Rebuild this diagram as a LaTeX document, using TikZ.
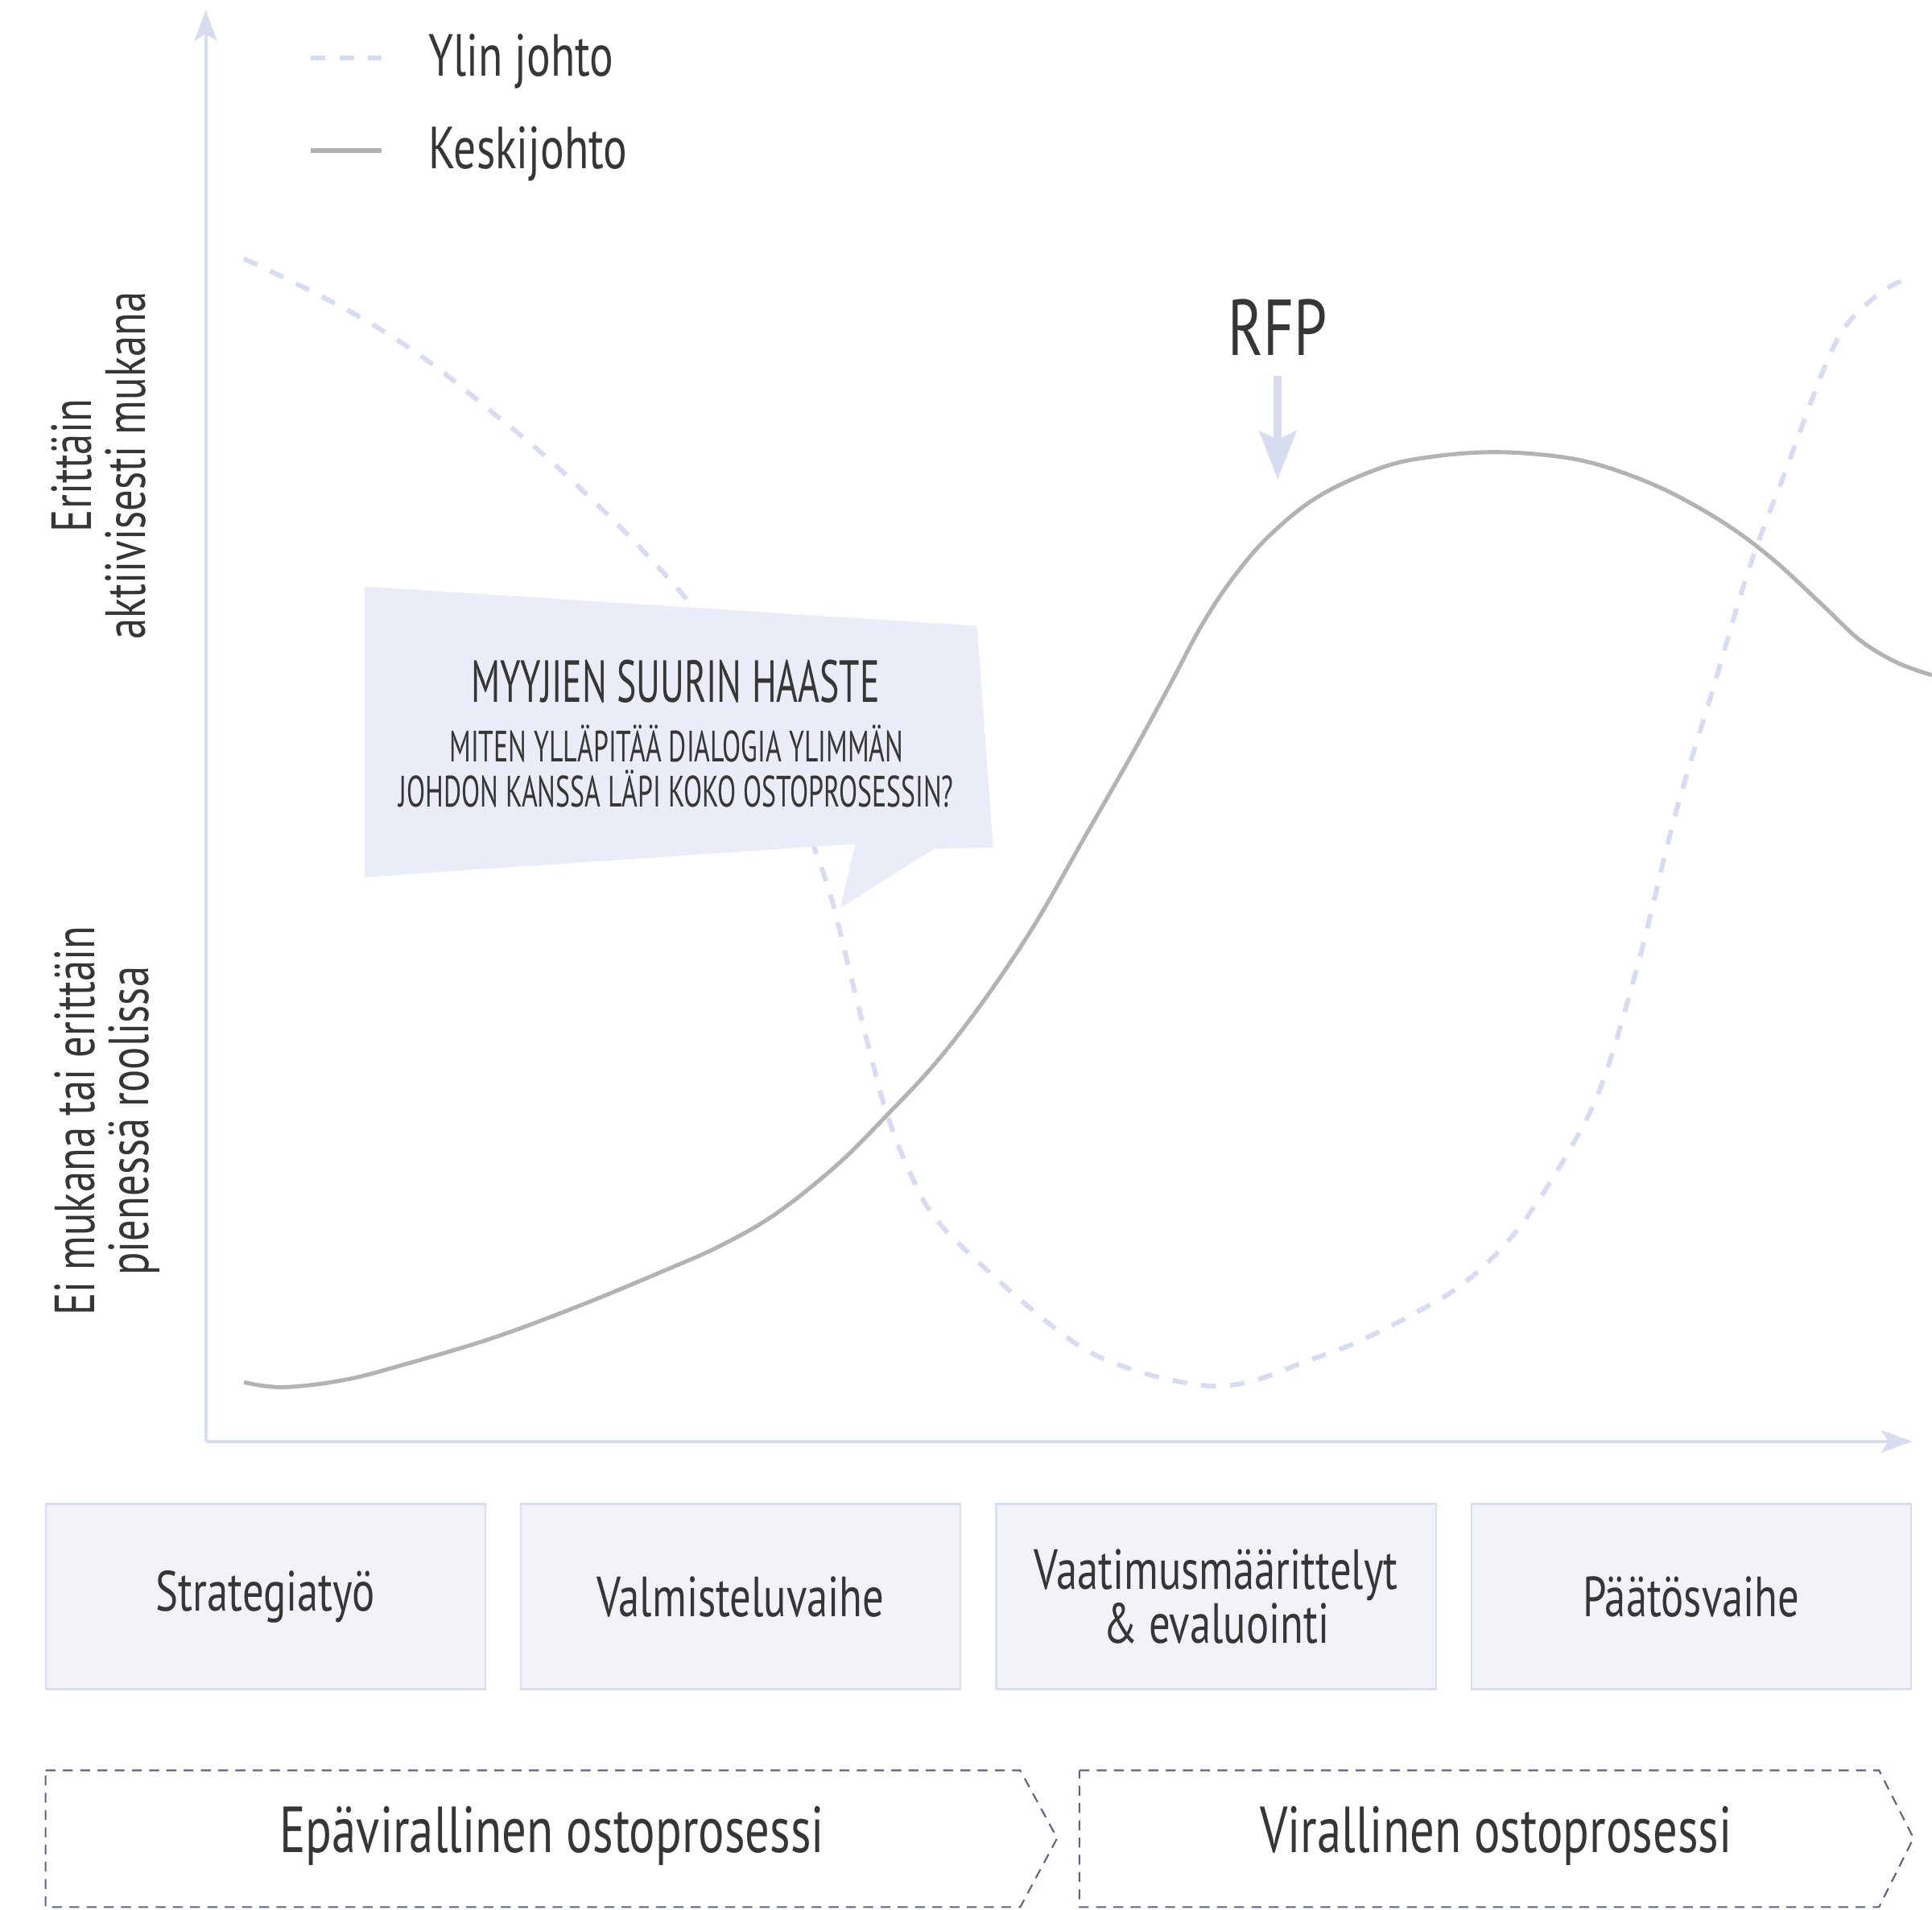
\documentclass[tikz,border=0pt]{standalone}
\usepackage{fontspec}
\setmainfont{PT Sans}[FakeStretch=0.75]
\newfontfamily\capsfont{PT Sans}[FakeStretch=0.62]
\usetikzlibrary{arrows.meta}
\definecolor{axisblue}{HTML}{D8DCF0}
\definecolor{curvegray}{HTML}{B3B3B3}
\definecolor{bubblefill}{HTML}{EAEDF7}
\definecolor{boxfill}{HTML}{F2F3F9}
\definecolor{boxline}{HTML}{D9DDF1}
\definecolor{stageline}{HTML}{5A6382}
\definecolor{inkgray}{HTML}{363636}
\tikzset{
  axis/.style={axisblue, line width=1.2pt, -{Stealth[length=11pt, width=8pt, inset=2.5pt]}},
  ylin/.style={axisblue, line width=1.7pt, dash pattern=on 5.2pt off 5pt},
  keski/.style={curvegray, line width=1.45pt},
  legendtext/.style={anchor=west, text=inkgray, font=\fontsize{21}{21}\selectfont},
  sidetext/.style={rotate=90, align=center, text=inkgray, font=\fontsize{20}{19}\selectfont},
  phasebox/.style={draw=boxline, fill=boxfill, line width=0.7pt, minimum width=54.6mm, minimum height=23mm, align=center, text=inkgray, font=\fontsize{20}{19}\selectfont},
  stagearrow/.style={stageline, line width=0.6pt, dash pattern=on 3.5pt off 2.6pt},
  stagetext/.style={text=inkgray, font=\fontsize{23}{23}\selectfont},
  rfparrow/.style={axisblue, line width=2.8pt, -{Stealth[length=17pt, width=13pt, inset=3pt]}},
}
\begin{document}
\begin{tikzpicture}[x=0.15306mm, y=-0.15306mm]
\useasboundingbox (0,0) rectangle (1568,1550);

% axes
\coordinate (origin) at (167,1170);
\coordinate (ytop) at (167,8);
\coordinate (xend) at (1552,1170);
\draw[axis] (origin) -- (ytop);
\draw[axis] (origin) -- (xend);

% legend
\coordinate (ylinA) at (252,47);
\coordinate (ylinB) at (310,47);
\coordinate (keskiA) at (252,122);
\coordinate (keskiB) at (310,122);
\draw[ylin] (ylinA) -- (ylinB);
\draw[keski, line width=1.8pt] (keskiA) -- (keskiB);
\node[legendtext] (ylinlbl) at (340,50) {Ylin johto};
\node[legendtext] (keskilbl) at (340,125) {Keskijohto};

% y labels
\node[sidetext] (high) at (80,378) {Erittäin\\aktiivisesti mukana};
\node[sidetext] (low) at (87,910) {Ei mukana tai erittäin\\pienessä roolissa};

% curves
\draw[ylin] plot[smooth, tension=0.6] coordinates {(198,210) (250,235) (300,262) (350,295) (400,335) (440,368) (480,405) (520,445) (560,490) (600,545) (635,610) (660,685) (675,730) (690,790) (705,850) (720,905) (740,955) (760,990) (800,1030) (840,1065) (880,1095) (920,1112) (960,1122) (990,1125) (1020,1120) (1060,1105) (1100,1090) (1150,1065) (1190,1040) (1230,1000) (1270,940) (1300,880) (1330,780) (1360,660) (1390,560) (1420,460) (1450,380) (1480,300) (1500,262) (1530,235) (1552,225)};
\draw[keski] plot[smooth, tension=0.6] coordinates {(198,1122) (230,1126) (280,1120) (330,1107) (400,1086) (470,1060) (540,1031) (585,1011) (630,985) (680,945) (720,905) (760,862) (800,810) (840,750) (880,680) (920,610) (950,555) (975,508) (1000,470) (1030,435) (1070,403) (1120,380) (1160,371) (1210,367) (1260,370) (1300,378) (1350,397) (1400,425) (1440,455) (1480,492) (1510,520) (1540,538) (1568,548)};

% RFP
\node[text=inkgray, inner sep=0pt, font=\fontsize{28}{28}\selectfont] (rfp) at (1037,266) {RFP};
\coordinate (rfptip) at (1037,389);
\draw[rfparrow, shorten <=7pt] (rfp) -- (rfptip);

% bubble
\fill[bubblefill] (296,476) -- (793,508) -- (806,688) -- (758,689) -- (682,737) -- (694,685) -- (296,712) -- cycle;
\node[text=inkgray, font=\capsfont\fontsize{21}{21}\selectfont] (haaste) at (548,553) {MYYJIEN SUURIN HAASTE};
\node[text=inkgray, align=center, font=\capsfont\fontsize{15.5}{16}\selectfont] (kysymys) at (549,622) {MITEN YLLÄPITÄÄ DIALOGIA YLIMMÄN\\JOHDON KANSSA LÄPI KOKO OSTOPROSESSIN?};

% phases
\node[phasebox] (strategia) at (215.5,1296) {Strategiatyö};
\node[phasebox] (valmistelu) at (601,1296) {Valmisteluvaihe};
\node[phasebox] (vaatimus) at (987,1296) {Vaatimusmäärittelyt\\\& evaluointi};
\node[phasebox] (paatos) at (1372.5,1296) {Päätösvaihe};

% process arrows
\draw[stagearrow] (37,1437) -- (828,1437) -- (858,1492) -- (828,1548) -- (37,1548) -- cycle;
\draw[stagearrow] (876,1437) -- (1525,1437) -- (1553,1492) -- (1525,1548) -- (876,1548) -- cycle;
\node[stagetext] (epavirallinen) at (448,1490) {Epävirallinen ostoprosessi};
\node[stagetext] (virallinen) at (1214,1490) {Virallinen ostoprosessi};
\end{tikzpicture}
\end{document}
